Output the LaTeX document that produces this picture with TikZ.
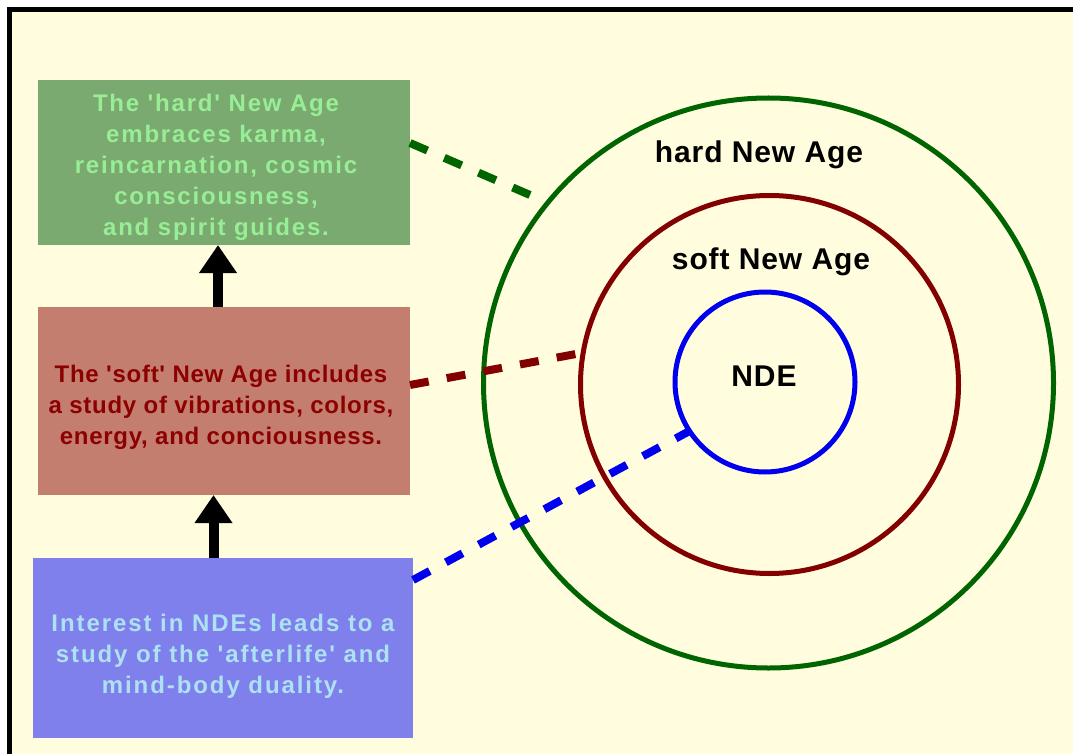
\documentclass[tikz,border=0pt]{standalone}
\usepackage{fontspec}
\setmainfont{Liberation Sans}
\newfontfamily\hardfont[LetterSpace=7.5]{Liberation Sans}
\newfontfamily\softfont[LetterSpace=3]{Liberation Sans}
\newfontfamily\ndefont[LetterSpace=8]{Liberation Sans}
\newfontfamily\labelfont[LetterSpace=3]{Liberation Sans}
\usetikzlibrary{arrows.meta,calc}
\definecolor{bg}{RGB}{255,253,222}
\definecolor{hardfill}{RGB}{123,170,112}
\definecolor{hardtext}{RGB}{152,238,150}
\definecolor{softfill}{RGB}{196,126,112}
\definecolor{softtext}{RGB}{140,0,0}
\definecolor{ndefill}{RGB}{128,128,236}
\definecolor{ndetext}{RGB}{172,226,242}
\definecolor{hardline}{RGB}{0,100,0}
\definecolor{softline}{RGB}{130,0,0}
\definecolor{ndeline}{RGB}{0,0,238}
\tikzset{
  infobox/.style={rectangle, inner sep=0pt, outer sep=0pt},
  boxtext/.style={inner sep=0pt, align=center},
  boxsize/.style={font=#1\bfseries\fontsize{24}{31}\selectfont},
  ring/.style={circle, inner sep=0pt, outer sep=0pt, line width=5pt, draw},
  ringlabel/.style={font=\labelfont\bfseries\fontsize{30}{36}\selectfont, text=black},
  uparrow/.style={line width=10pt, -{Triangle[width=36pt,length=28pt]}},
  link/.style={line width=8pt, dash pattern=on 19pt off 18.3pt}
}
\begin{document}
\begin{tikzpicture}[x=1pt,y=-1pt]
\useasboundingbox (0,0) rectangle (1073,754);
\fill[white] (0,0) rectangle (1073,754);
\fill[bg] (9,9) rectangle (1073,754);
\draw[line width=4.5pt] (9.5,754) -- (9.5,9.5) -- (1073,9.5);

% boxes
\node[infobox, fill=hardfill, minimum width=372pt, minimum height=165pt]
  (hardbox) at (224,162.5) {};
\node[infobox, fill=softfill, minimum width=372pt, minimum height=188pt]
  (softbox) at (224,401) {};
\node[infobox, fill=ndefill, minimum width=380pt, minimum height=180pt]
  (ndebox) at (223,648) {};

\node[boxtext, boxsize=\hardfont, text=hardtext] (hardtxt) at ([xshift=-8pt,yshift=-5pt]hardbox.center)
  {The 'hard' New Age\\embraces karma,\\reincarnation, cosmic\\consciousness,\\and spirit guides.};
\node[boxtext, boxsize=\softfont, text=softtext] (softtxt) at ([xshift=-3pt,yshift=-6pt]softbox.center)
  {The 'soft' New Age includes\\a study of vibrations, colors,\\energy, and conciousness.};
\node[boxtext, boxsize=\ndefont, text=ndetext] (ndetxt) at ([yshift=-8pt]ndebox.center)
  {Interest in NDEs leads to a\\study of the 'afterlife' and\\mind-body duality.};

% arrows
\draw[uparrow] ([xshift=-6pt]softbox.north) -- ([xshift=-6pt]hardbox.south);
\draw[uparrow] ([xshift=-9.5pt]ndebox.north) -- ([xshift=-10.5pt]softbox.south);

% rings
\node[ring, draw=hardline, minimum size=570pt] (hard) at (768.5,383) {};
\node[ring, draw=softline, minimum size=378pt] (soft) at (769.5,384.5) {};
\node[ring, draw=ndeline, minimum size=180pt] (nde) at (765,382) {};

\node[ringlabel] (hardlabel) at (759,155) {hard New Age};
\node[ringlabel] (softlabel) at (771,262) {soft New Age};
\node[ringlabel] (ndelabel) at (764,376) {NDE};

% dashed links
\coordinate (hardend) at (530,195);
\coordinate (softend) at (576,354);
\draw[link, draw=hardline] ([yshift=19.5pt]hardbox.east) -- (hardend);
\draw[link, draw=softline] ([yshift=16pt]softbox.east) -- (softend);
\draw[link, draw=ndeline] ([yshift=68pt]ndebox.east) -- (nde.213.5);
\end{tikzpicture}
\end{document}
